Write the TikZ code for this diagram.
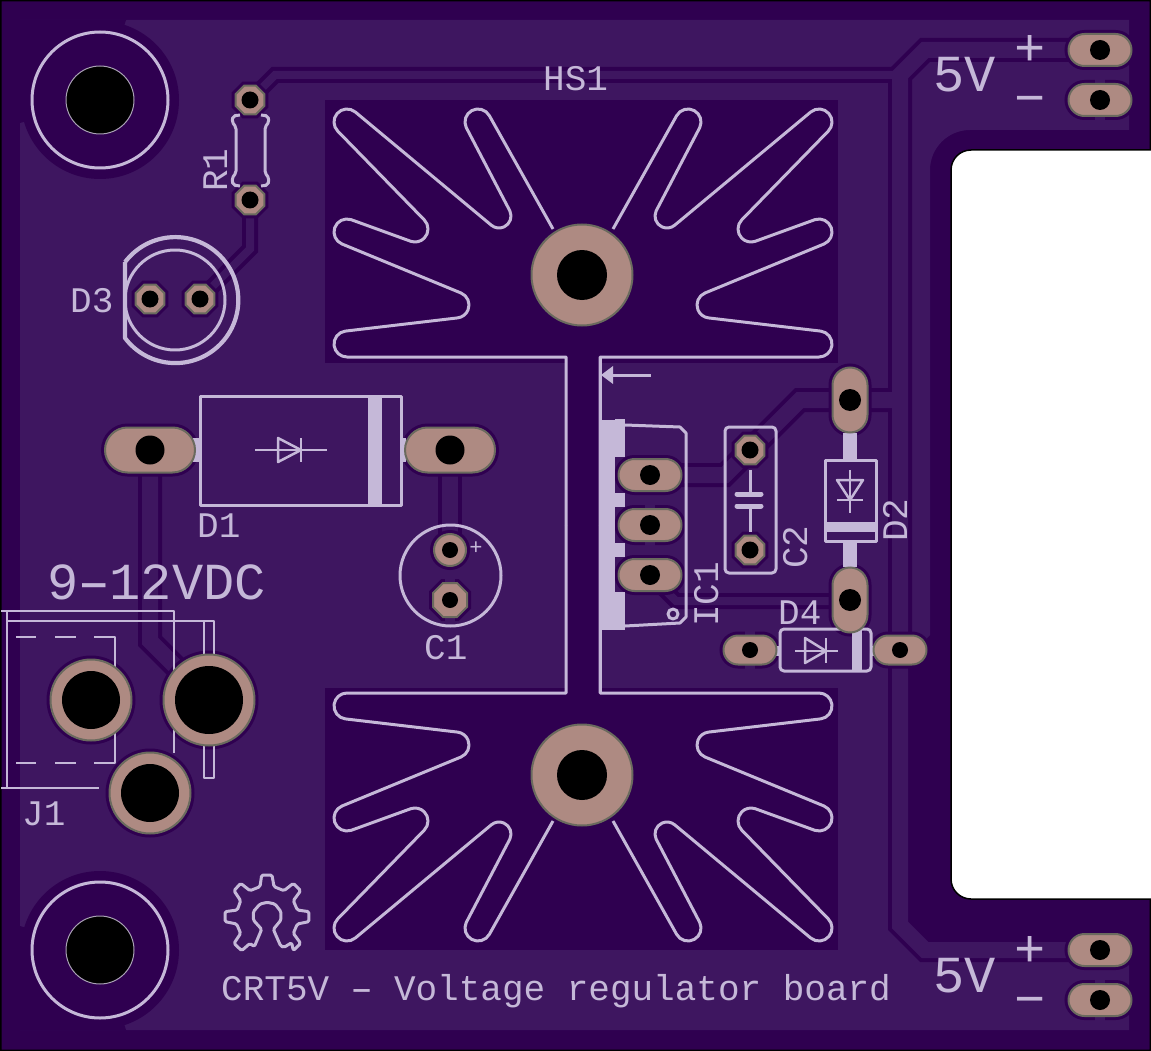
\documentclass[tikz,border=0pt]{standalone}
\usepackage{fontspec}
\usepackage{graphicx}
\newfontfamily\silkfont{Liberation Mono}
\definecolor{mask}{HTML}{2F0050}
\definecolor{pour}{HTML}{3E1660}
\definecolor{silk}{HTML}{C5B8D8}
\definecolor{padc}{HTML}{AE8A82}
\definecolor{padl}{HTML}{6A6A5E}
\newcommand\tsmall{\silkfont\fontsize{36}{36}\selectfont}
\newcommand\tbig{\silkfont\fontsize{52}{52}\selectfont}
\newcommand\sdash{\makebox[0.6em]{\scalebox{1.65}[1]{-}}}
\tikzset{
 silktext/.style={text=silk,inner sep=0pt,anchor=base west},
 sl/.style={draw=silk,line width=3pt,line join=round},
 sf/.style={fill=silk},
 padstyle/.style={fill=padc,draw=padl,line width=2pt},
 clear/.style={fill=mask,draw=mask,line width=8pt},
 holes/.style={fill=black}
}
% tip of a heat sink fin: centre x, centre y, start and end angle, radius
\def\tip#1#2#3#4#5{-- ([shift={(#3:#5)}]#1,#2) arc[start angle=#3,end angle=#4,radius=#5]}
\def\hspath{(553,229) \tip{478}{122}{-29}{-205}{13} \tip{499}{216}{-25}{130}{12} \tip{347}{122}{-50}{-225}{13} \tip{415}{229}{-45}{109}{13} \tip{347}{232}{-71}{-248}{13} \tip{456}{305}{-68}{83}{13} \tip{347}{344}{-97}{-270}{13} -- (566,357) -- (566,525)}
% pads: stage one is the clearance in the mask, stage two the pad itself
\def\ovC#1#2#3#4#5{\pgfmathsetmacro\pr{min(#3,#4)/2}\draw[clear,rounded corners=\pr pt] (#1-#3/2,#2-#4/2) rectangle (#1+#3/2,#2+#4/2);}
\def\ovP#1#2#3#4#5{\pgfmathsetmacro\pr{min(#3,#4)/2}\draw[padstyle,rounded corners=\pr pt] (#1-#3/2,#2-#4/2) rectangle (#1+#3/2,#2+#4/2);\fill[holes] (#1,#2) circle[radius=#5];}
\def\ocC#1#2#3#4{\pgfmathsetmacro\pa{#3*.4142}\draw[clear] (#1+#3,#2-\pa) -- (#1+#3,#2+\pa) -- (#1+\pa,#2+#3) -- (#1-\pa,#2+#3) -- (#1-#3,#2+\pa) -- (#1-#3,#2-\pa) -- (#1-\pa,#2-#3) -- (#1+\pa,#2-#3) -- cycle;}
\def\ocP#1#2#3#4{\pgfmathsetmacro\pa{#3*.4142}\draw[padstyle] (#1+#3,#2-\pa) -- (#1+#3,#2+\pa) -- (#1+\pa,#2+#3) -- (#1-\pa,#2+#3) -- (#1-#3,#2+\pa) -- (#1-#3,#2-\pa) -- (#1-\pa,#2-#3) -- (#1+\pa,#2-#3) -- cycle;\fill[holes] (#1,#2) circle[radius=#4];}
\def\rdC#1#2#3#4{\fill[mask] (#1,#2) circle[radius=#3+4];}
\def\rdP#1#2#3#4{\draw[padstyle] (#1,#2) circle[radius=#3];\fill[holes] (#1,#2) circle[radius=#4];}
\def\allpads{%
 \padov{150}{450}{90}{45}{14.5}\padov{450}{450}{90}{45}{14.5}%
 \padov{650}{475}{63}{32}{10}\padov{650}{525}{63}{32}{10}\padov{650}{575}{63}{32}{10}%
 \padov{850}{400}{35}{65}{11}\padov{850}{600}{35}{65}{11}%
 \padov{750}{650}{53}{29}{8}\padov{900}{650}{53}{29}{8}%
 \padov{1100}{50}{63}{32}{10}\padov{1100}{100}{63}{32}{10}\padov{1100}{950}{63}{32}{10}\padov{1100}{1000}{63}{32}{10}%
 \padoc{250}{100}{14.3}{8.5}\padoc{250}{200}{14.3}{8.5}\padoc{150}{299}{14.3}{8.5}\padoc{200}{299}{14.3}{8.5}%
 \padoc{750}{450}{14.3}{8.5}\padoc{750}{550}{14.3}{8.5}\padoc{450}{600}{17}{8}%
 \padrd{450}{550}{16}{8}%
 \padrd{91}{700}{40.5}{29}\padrd{209}{700}{45.5}{34}\padrd{150}{793}{40.5}{29}%
 \padrd{582}{275}{50.5}{25}\padrd{582}{775}{50.5}{25}%
}
% traces: width, path
\def\trC#1#2{\draw[draw=mask,line width=#1pt+8pt,line join=miter] #2;}
\def\trL#1#2{\draw[draw=pour,line width=#1pt,line join=miter] #2;}
\def\alltraces{%
 \trk{16}{(1100,50) -- (925,50) -- (900,75) -- (900,925) -- (925,950) -- (1100,950)}%
 \trk{8}{(250,100) -- (275,75) -- (900,75)}%
 \trk{8}{(200,299) -- (250,249) -- (250,200)}%
 \trk{16}{(150,450) -- (150,641) -- (209,700)}%
 \trk{16}{(450,450) -- (450,550)}%
 \trk{16}{(650,475) -- (725,475) -- (800,400) -- (900,400)}%
 \trk{8}{(650,575) -- (676,601) -- (850,601)}%
}
\begin{document}
\begin{tikzpicture}[x=1pt,y=-1pt]
\useasboundingbox (0,0) rectangle (1151,1051);
\fill[white] (0,0) rectangle (1151,1051);
% board
\draw[fill=mask,draw=black,line width=1.5pt] (0.75,0.75) -- (1150.25,0.75) -- (1150.25,150) -- (971,150) arc[start angle=-90,end angle=-180,radius=20] -- (951,879) arc[start angle=180,end angle=90,radius=20] -- (1150.25,899) -- (1150.25,1050.25) -- (0.75,1050.25) -- cycle;
% copper pour
\fill[pour] (20,20) -- (1129,20) -- (1129,130) -- (970,130) arc[start angle=-90,end angle=-180,radius=40] -- (930,635) -- (925,640) -- (888,640) -- (888,928) -- (922,962) -- (1129,962) -- (1129,1030) -- (20,1030) -- cycle;
% keep-outs
\fill[mask] (20,20) -- (126,20) -- (100,100) -- (20,123) -- cycle;
\fill[mask] (20,1030) -- (126,1030) -- (100,950) -- (20,926) -- cycle;
\fill[mask] (100,100) circle[radius=79];
\fill[mask] (100,950) circle[radius=79];
\fill[mask] (325,100) rectangle (838,363);
\fill[mask] (325,688) rectangle (838,950);
\fill[mask] (565,363) rectangle (600,688);
% traces
\let\trk\trC \alltraces
\let\trk\trL \alltraces
% pad clearances and thermals
\let\padov\ovC \let\padoc\ocC \let\padrd\rdC \allpads
\fill[pour] (1095,79) rectangle (1105,121);
\fill[pour] (1095,979) rectangle (1105,1021);
\fill[pour] (645,504) rectangle (655,546);
\fill[pour] (745,630) rectangle (755,670);
\fill[pour] (445,577) rectangle (455,623);
% heat sink outline
\draw[sl] \hspath;
\begin{scope}[shift={(1166,0)},xscale=-1]\draw[sl] \hspath;\end{scope}
\begin{scope}[shift={(0,1050)},yscale=-1]\draw[sl] \hspath;\end{scope}
\begin{scope}[shift={(1166,1050)},xscale=-1,yscale=-1]\draw[sl] \hspath;\end{scope}
% mounting holes
\draw[sl] (100,100) circle[radius=68];
\draw[sl] (100,950) circle[radius=68];
% R1
\draw[sl,rounded corners=2pt] (240,115) -- (233,116) -- (232,122) -- (236,127) -- (236,173) -- (232,178) -- (233,185) -- (240,186);
\draw[sl,rounded corners=2pt] (261,115) -- (268,116) -- (269,122) -- (265,127) -- (265,173) -- (269,178) -- (268,185) -- (261,186);
% D3
\draw[sl] (175,300) circle[radius=50];
\draw[sl,line width=4.2pt] (125,262) -- (125,338) arc[start angle=143,end angle=-143,radius=63] ;
% D1
\draw[sl] (200,396) rectangle (401,505);
\fill[silk] (368,396) rectangle (382,505);
\fill[silk] (193,438) rectangle (200,462);
\fill[silk] (401,438) rectangle (406,462);
\draw[sl,line width=2.5pt] (255,450) -- (327,450);
\draw[sl,line width=2.5pt] (278,438) -- (278,462) -- (301,450) -- cycle;
\draw[sl,line width=2.5pt] (301,438) -- (301,462);
% C1
\draw[sl] (450.5,575.5) circle[radius=50.5];
% J1
\draw[sl,line width=2.5pt] (1,611) -- (174,611) -- (174,753);
\draw[sl,line width=2.5pt] (7,611) -- (7,788);
\draw[sl,line width=2.5pt] (1,788) -- (99,788);
\draw[sl,line width=2.5pt] (7,621) -- (214,621) -- (214,778) -- (204,778) -- (204,621);
\draw[sl,line width=2.5pt] (16,637) -- (36,637) (55,637) -- (76,637) (94,637) -- (115,637) -- (115,763) -- (94,763) (76,763) -- (55,763) (36,763) -- (16,763);
% gear logo
\begin{scope}[shift={(210,860)},x=.3333pt,y=-.3333pt]
\draw[sl,rounded corners=1.5pt] (155,208) -- (130,180) -- (130,155) -- (150,132) -- (172,127) -- (195,132) -- (213,155) -- (213,180) -- (190,208) -- (212,258) -- (222,262) -- (245,248) -- (250,272) -- (272,250) -- (250,220) -- (262,192) -- (297,185) -- (297,155) -- (262,150) -- (250,122) -- (272,92) -- (250,70) -- (222,92) -- (192,80) -- (186,45) -- (155,45) -- (150,80) -- (120,92) -- (92,70) -- (72,92) -- (92,122) -- (82,150) -- (45,155) -- (45,185) -- (80,192) -- (92,220) -- (72,250) -- (95,272) -- (120,250) -- (133,260) -- cycle;
\end{scope}
% outline around the regulator
\draw[sl] (600,357) -- (600,693);
\draw[sl] (605,375) -- (651,375);
\fill[silk] (601,375) -- (613,366) -- (613,384) -- cycle;
% IC1
\fill[silk] (600,420) rectangle (615,630);
\fill[silk] (615,419) rectangle (625,457);
\fill[silk] (615,493) rectangle (625,507);
\fill[silk] (615,543) rectangle (625,557);
\fill[silk] (615,592) rectangle (625,630);
\draw[sl] (625,425) -- (680,427) -- (686,433) -- (686,617) -- (680,623) -- (625,626);
\draw[sl] (673,614) circle[radius=5];
% C2
\draw[sl,rounded corners=4pt] (725,427) rectangle (776,573);
\draw[sl] (750,470) -- (750,492);
\draw[sl] (750,508) -- (750,532);
\draw[sl,line width=5pt,line cap=round] (737,494) -- (761,494);
\draw[sl,line width=5pt,line cap=round] (737,506) -- (761,506);
% D2
\fill[silk] (843,433) rectangle (857,460);
\fill[silk] (843,541) rectangle (857,567);
\draw[sl] (825,460) rectangle (876,541);
\fill[silk] (825,522) rectangle (876,532);
\draw[sl,line width=2.5pt] (850,470) -- (850,513);
\draw[sl,line width=2.5pt] (837,480) -- (863,480) -- (850,500) -- cycle;
\draw[sl,line width=2.5pt] (837,500) -- (863,500);
% D4
\draw[sl,rounded corners=4pt] (780,629) rectangle (871,671);
\fill[silk] (852,630) rectangle (862,670);
\fill[silk] (776,646) rectangle (780,656);
\fill[silk] (871,646) rectangle (875,656);
\draw[sl,line width=2.5pt] (795,651) -- (838,651);
\draw[sl,line width=2.5pt] (805,638) -- (805,663) -- (826,651) -- cycle;
\draw[sl,line width=2.5pt] (826,638) -- (826,663);
% pads over the silk
\let\padov\ovP \let\padoc\ocP \let\padrd\rdP \allpads
% mounting holes
\draw[fill=black,draw=silk!60!gray,line width=1pt] (100,100) circle[radius=34];
\draw[fill=black,draw=silk!60!gray,line width=1pt] (100,950) circle[radius=34];
% texts
\node[silktext] (hs1) at (543,91) {\tsmall HS1};
\node[silktext] (vin) at (47,599) {\tbig 9\sdash12VDC};
\node[silktext] (v5a) at (933,92) {\tbig 5V};
\node[silktext] (v5b) at (933,992) {\tbig 5V};
\node[silktext,anchor=base] (pa) at (1030,66) {\tbig +};
\node[silktext,anchor=base] (ma) at (1030,116) {\tbig −};
\node[silktext,anchor=base] (pb) at (1030,966) {\tbig +};
\node[silktext,anchor=base] (mb) at (1030,1016) {\tbig −};
\node[silktext] (d3t) at (70,312) {\tsmall D3};
\node[silktext] (d1t) at (197,537) {\tsmall D1};
\node[silktext] (c1t) at (424,659) {\tsmall C1};
\node[silktext,anchor=base] (c1p) at (476,554) {\silkfont\fontsize{22}{22}\selectfont +};
\node[silktext] (j1t) at (22,825) {\tsmall J1};
\node[silktext] (d4t) at (778,624) {\tsmall D4};
\node[silktext] (brd) at (221,1000) {\tsmall CRT5V \sdash{} Voltage regulator board};
\node[silktext,rotate=90] (r1t) at (227,192) {\tsmall R1};
\node[silktext,rotate=90] (c2t) at (807,569) {\tsmall C2};
\node[silktext,rotate=90] (ic1t) at (718,627) {\tsmall IC1};
\node[silktext,rotate=90] (d2t) at (907,542) {\tsmall D2};
\end{tikzpicture}
\end{document}
